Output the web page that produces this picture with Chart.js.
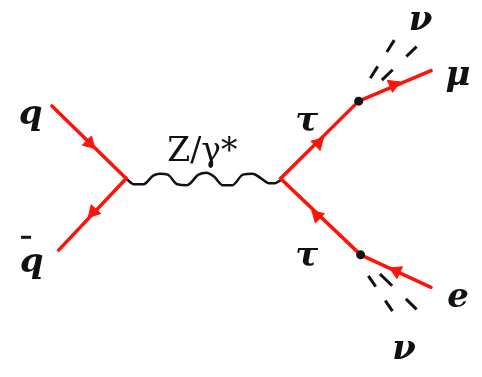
<!DOCTYPE html>
<html>
<head>
<meta charset="utf-8">
<script src="https://cdn.jsdelivr.net/npm/chart.js@4"></script>
<style>
  body { margin: 0; background: #fff; }
  canvas { display: block; }
</style>
</head>
<body>
<canvas id="feynman" width="482" height="377"></canvas>
<script>
// Fermion lines, each written in the direction its arrow points
const qLine = [[45, 102], [122, 178]];
const qbarLine = [[122, 178], [52, 253]];
const tauUpLine = [[282, 178], [363, 97]];
const muLine = [[363, 97], [438, 65]];
const tauDownLine = [[365, 258], [282, 178]];
const eLine = [[438, 292], [365, 258]];

// Z/gamma* propagator, corners of the wiggle
const bosonX = [122, 130, 140, 150, 157, 165, 175, 185, 197, 205, 213, 222, 232, 243, 253, 262, 270, 276, 282];
const bosonY = [178, 184, 184, 175, 173, 174, 184, 185, 174, 172, 176, 185, 185, 174, 173, 178, 183, 183, 180];

// Neutrino legs (dashed), from the first dash to the end of the last
const nuUpA = [[375, 73], [400, 33]];
const nuUpB = [[387, 75], [423, 40]];
const nuDownA = [[373, 280], [398, 317]];
const nuDownB = [[385, 278], [423, 315]];

// Decay vertices
const decayX = [363, 365];
const decayY = [97, 258];

// Arrow heads and the line each one sits on
const arrowX = [84, 88, 321, 399, 320, 402];
const arrowY = [141, 213, 141, 80, 217, 275];
const arrowLines = [qLine, qbarLine, tauUpLine, muLine, tauDownLine, eLine];

// Labels
const labelText = ['q', 'q', 'Z/γ*', 'τ', 'τ', 'μ', 'ν', 'e', 'ν'];
const labelX = [23, 24, 201, 309, 309, 466, 427, 466, 410];
const labelY = [121, 276, 160, 128, 270, 80, 23, 313, 367];

const RED = '#ff1208';
const LABEL_FONT = 'italic bold 34px "DejaVu Serif"';
const BOSON_FONT = '33px "DejaVu Serif"';

function pts(line) {
    return line.map(p => ({ x: p[0], y: p[1] }));
}

function fermion(line) {
    return {
        data: pts(line),
        showLine: true,
        borderColor: RED,
        borderWidth: 3.5,
        borderCapStyle: 'round',
        pointRadius: 0,
        order: 3
    };
}

function neutrino(line, dash) {
    return {
        data: pts(line),
        showLine: true,
        borderColor: '#111',
        borderWidth: 3,
        borderDash: dash,
        pointRadius: 0,
        order: 3
    };
}

const arrowAngles = arrowLines.map(l => {
    const dx = l[1][0] - l[0][0];
    const dy = l[1][1] - l[0][1];
    return Math.atan2(dy, dx) * 180 / Math.PI + 90;
});

// draws the text labels at their data positions
const labelPlugin = {
    id: 'labels',
    afterDatasetsDraw(chart) {
        const ctx = chart.ctx;
        const xs = chart.scales.x, ys = chart.scales.y;
        ctx.save();
        ctx.fillStyle = '#111';
        ctx.textAlign = 'center';
        ctx.textBaseline = 'alphabetic';
        labelText.forEach((t, i) => {
            ctx.font = t === 'Z/γ*' ? BOSON_FONT : LABEL_FONT;
            ctx.fillText(t, xs.getPixelForValue(labelX[i]), ys.getPixelForValue(labelY[i]));
        });
        // bar over the second q
        ctx.fillRect(xs.getPixelForValue(13), ys.getPixelForValue(238), 10, 3);
        ctx.restore();
    }
};

function draw() {
    new Chart(document.getElementById('feynman'), {
        type: 'scatter',
        data: {
            datasets: [
                {
                    data: bosonX.map((x, i) => ({ x: x, y: bosonY[i] })),
                    showLine: true,
                    borderColor: '#111',
                    borderWidth: 2.5,
                    cubicInterpolationMode: 'monotone',
                    pointRadius: 0,
                    order: 4
                },
                fermion(qLine),
                fermion(qbarLine),
                fermion(tauUpLine),
                fermion(muLine),
                fermion(tauDownLine),
                fermion(eLine),
                neutrino(nuUpA, [14, 17]),
                neutrino(nuUpB, [15, 19]),
                neutrino(nuDownA, [13, 17]),
                neutrino(nuDownB, [17, 19]),
                {
                    data: arrowX.map((x, i) => ({ x: x, y: arrowY[i] })),
                    pointStyle: 'triangle',
                    pointRadius: 7.5,
                    pointRotation: arrowAngles,
                    backgroundColor: RED,
                    borderColor: RED,
                    borderWidth: 1,
                    order: 1
                },
                {
                    data: decayX.map((x, i) => ({ x: x, y: decayY[i] })),
                    pointStyle: 'circle',
                    pointRadius: 4.5,
                    backgroundColor: '#111',
                    borderColor: '#111',
                    borderWidth: 0,
                    order: 0
                }
            ]
        },
        options: {
            responsive: false,
            animation: false,
            layout: { padding: 0 },
            plugins: {
                legend: { display: false },
                tooltip: { enabled: false }
            },
            scales: {
                x: { type: 'linear', min: 0, max: 482, display: false },
                y: { type: 'linear', min: 0, max: 377, reverse: true, display: false }
            }
        },
        plugins: [labelPlugin]
    });
}

Promise.all([
    document.fonts.load(LABEL_FONT, 'qτμνe'),
    document.fonts.load(BOSON_FONT, 'Z/γ*')
]).then(draw, draw);
</script>
</body>
</html>
